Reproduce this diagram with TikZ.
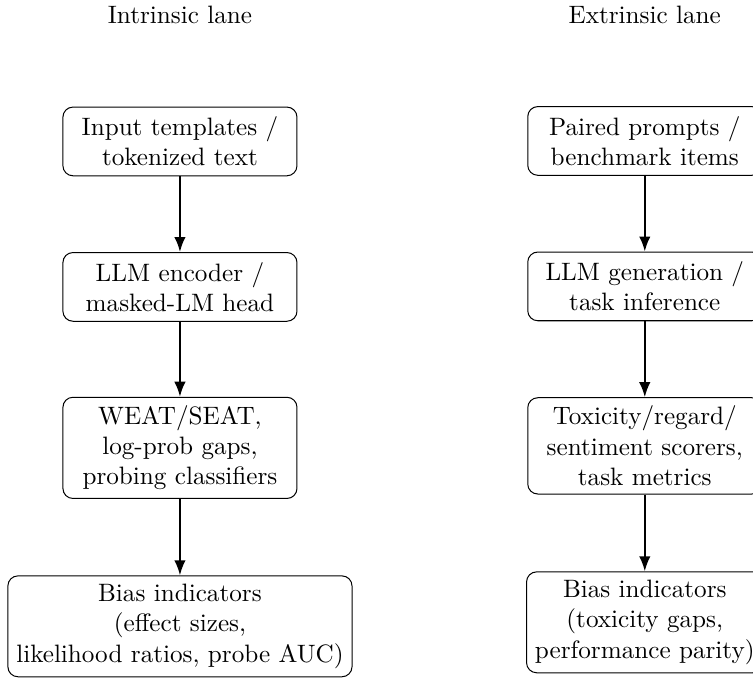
\documentclass[tikz,border=0pt]{standalone}
\usetikzlibrary{arrows.meta}
\begin{document}
\begin{tikzpicture}[
    stage/.style={draw, rounded corners, align=center, minimum width=3.27cm, minimum height=0.96cm},
    flow/.style={-{Latex[length=2.1mm,width=1.6mm]}, thick}]
        \useasboundingbox (0,0) rectangle (10.52,-9.483);
        \node (intr) at (2.514,-0.21) {Intrinsic lane};
        \node (extr) at (9.008,-0.21) {Extrinsic lane};
        \node[stage] (in1) at (2.514,-1.976) {Input templates /\\tokenized text};
        \node[stage] (in2) at (2.514,-4.008) {LLM encoder /\\masked-LM head};
        \node[stage] (in3) at (2.514,-6.257) {WEAT/SEAT,\\log-prob gaps,\\probing classifiers};
        \node[stage] (in4) at (2.514,-8.75) {Bias indicators\\(effect sizes,\\likelihood ratios, probe AUC)};
        \node[stage] (ex1) at (9.008,-1.969) {Paired prompts /\\benchmark items};
        \node[stage] (ex2) at (9.008,-4.001) {LLM generation /\\task inference};
        \node[stage] (ex3) at (9.008,-6.229) {Toxicity/regard/\\sentiment scorers,\\task metrics};
        \node[stage] (ex4) at (9.008,-8.694) {Bias indicators\\(toxicity gaps,\\performance parity)};
        \draw[flow] (in1) -- (in2);
        \draw[flow] (in2) -- (in3);
        \draw[flow] (in3) -- (in4);
        \draw[flow] (ex1) -- (ex2);
        \draw[flow] (ex2) -- (ex3);
        \draw[flow] (ex3) -- (ex4);
    \end{tikzpicture}
\end{document}
